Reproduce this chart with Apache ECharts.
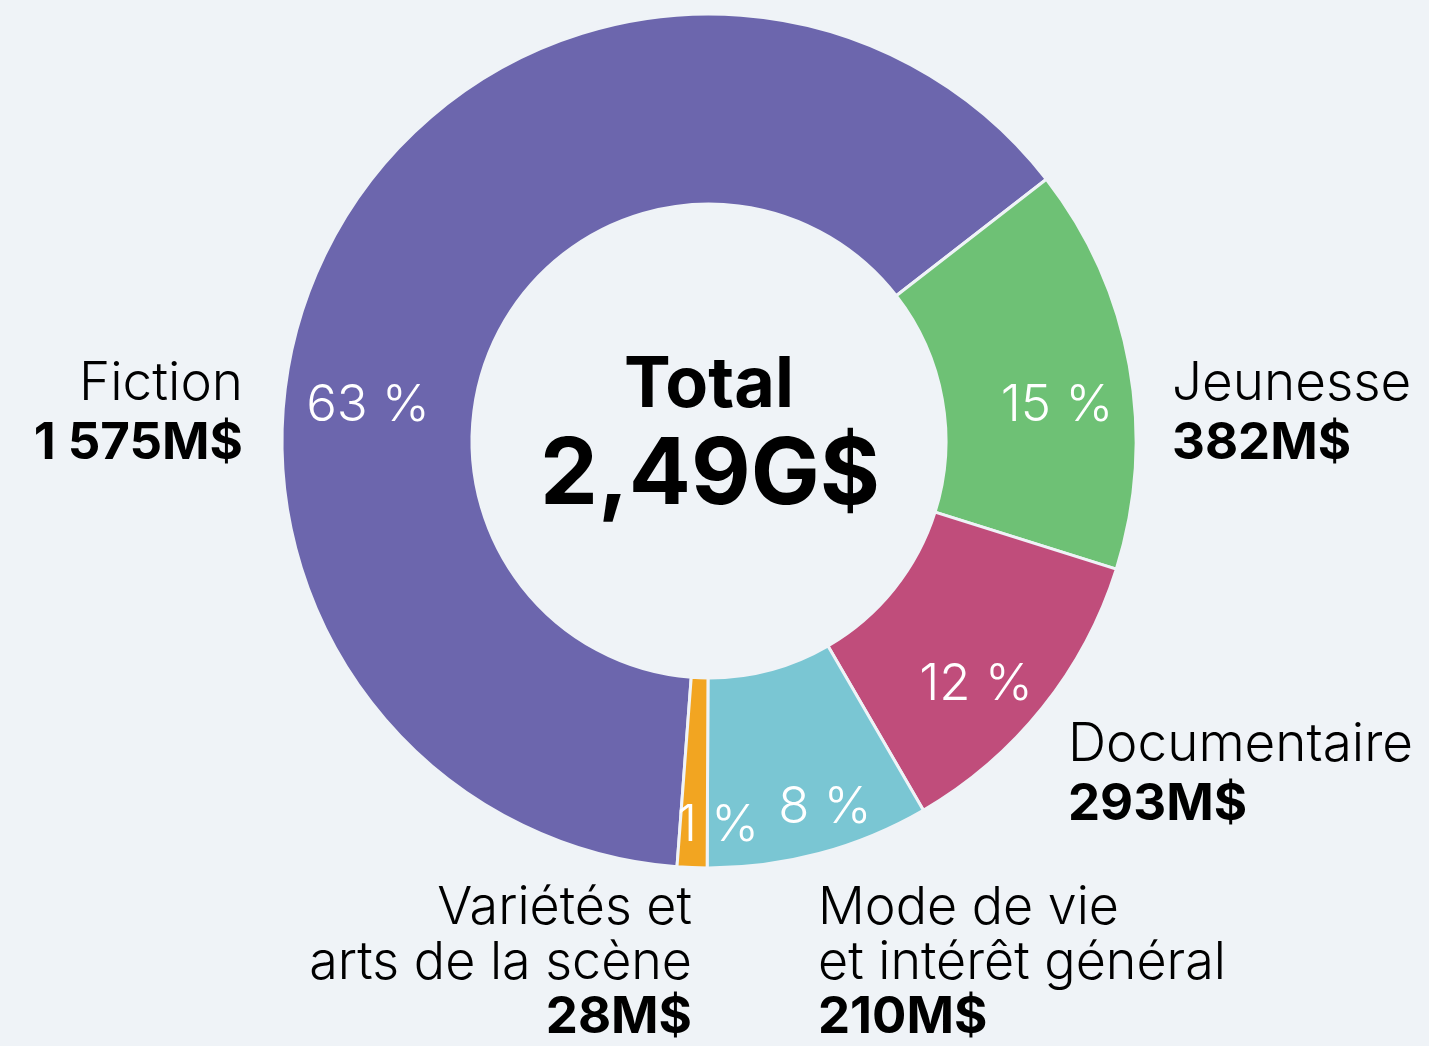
<!DOCTYPE html>
<html>
<head>
<meta charset="utf-8">
<script src="https://cdn.jsdelivr.net/npm/echarts@6/dist/echarts.min.js"></script>
<style>
  html, body { margin: 0; padding: 0; background: #eff3f7; }
  #main { width: 1429px; height: 1046px; }
</style>
</head>
<body>
<div id="main"></div>
<script>
// données (M$)
var categories = ['Fiction', 'Jeunesse', 'Documentaire', 'Mode de vie\net intérêt général', 'Variétés et\narts de la scène'];
var values = [1575, 382, 293, 210, 28];
var colors = ['#6c66ad', '#6ec175', '#c04d7b', '#7ac6d3', '#f2a521'];

// placement des étiquettes
var pctPos = [[368, 406], [1057, 406], [976, 685], [825, 808], [718, 826]];
var namePos = [[243, 414, 'right'], [1172, 414, 'left'], [1068, 775, 'left'], [818, 963, 'left'], [692, 963, 'right']];

var bg = '#eff3f7';
var font = 'Inter, "Noto Sans", sans-serif';

function fmtM(v) {
  var s = String(v);
  if (v >= 1000) s = s.slice(0, s.length - 3) + ' ' + s.slice(-3);
  return s + 'M$';
}

var total = values.reduce(function (a, b) { return a + b; }, 0);
var totalTxt = (total / 1000).toFixed(2).replace('.', ',') + 'G$';

var data = categories.map(function (c, i) {
  return { name: c, value: values[i], itemStyle: { color: colors[i] } };
});

var myChart = echarts.init(document.getElementById('main'));
var option = {
  backgroundColor: bg,
  animation: false,
  graphic: [
    {
      type: 'text', x: 709, y: 386, z: 10,
      style: { text: 'Total', font: 'bold 70px ' + font, fill: '#000', align: 'center', verticalAlign: 'middle' }
    },
    {
      type: 'text', x: 710, y: 476, z: 10,
      style: { text: totalTxt, font: 'bold 92px ' + font, fill: '#000', align: 'center', verticalAlign: 'middle' }
    }
  ],
  series: [
    {
      type: 'pie',
      center: [709, 441],
      radius: [237, 427],
      startAngle: 265.7,
      clockwise: true,
      silent: true,
      avoidLabelOverlap: false,
      data: data,
      itemStyle: { borderColor: bg, borderWidth: 3 },
      label: {
        show: true,
        position: 'inside',
        color: '#fff',
        fontFamily: font,
        fontWeight: 300,
        fontSize: 51,
        formatter: function (p) { return Math.round(p.percent) + ' %'; }
      },
      labelLine: { show: false },
      labelLayout: function (p) {
        var pos = pctPos[p.dataIndex];
        return { x: pos[0], y: pos[1], align: 'center', verticalAlign: 'middle' };
      },
      z: 2
    },
    {
      type: 'pie',
      center: [709, 441],
      radius: [237, 427],
      startAngle: 265.7,
      clockwise: true,
      silent: true,
      avoidLabelOverlap: false,
      data: data.map(function (d) { return { name: d.name, value: d.value }; }),
      itemStyle: { color: 'rgba(0,0,0,0)', borderWidth: 0 },
      label: {
        show: true,
        position: 'outside',
        fontFamily: font,
        formatter: function (p) {
          var i = p.dataIndex;
          var small = i >= 3;
          var r = namePos[i][2] === 'right' ? 'R' : 'L';
          var lines = p.name.split('\n').map(function (l) {
            return '{' + (small ? 'ns' : 'n') + r + '|' + l + '}';
          });
          lines.push('{' + (small ? 'vs' : 'v') + r + '|' + fmtM(p.value) + '}');
          return lines.join('\n');
        },
        rich: {
          nL: { fontFamily: font, fontSize: 53, fontWeight: 300, color: '#000', lineHeight: 59, align: 'left' },
          vL: { fontFamily: font, fontSize: 51, fontWeight: 700, color: '#000', lineHeight: 59, align: 'left' },
          nR: { fontFamily: font, fontSize: 53, fontWeight: 300, color: '#000', lineHeight: 59, align: 'right' },
          vR: { fontFamily: font, fontSize: 51, fontWeight: 700, color: '#000', lineHeight: 59, align: 'right' },
          nsL: { fontFamily: font, fontSize: 52, fontWeight: 300, color: '#000', lineHeight: 55, align: 'left' },
          vsL: { fontFamily: font, fontSize: 51, fontWeight: 700, color: '#000', lineHeight: 55, align: 'left' },
          nsR: { fontFamily: font, fontSize: 52, fontWeight: 300, color: '#000', lineHeight: 55, align: 'right' },
          vsR: { fontFamily: font, fontSize: 51, fontWeight: 700, color: '#000', lineHeight: 55, align: 'right' }
        }
      },
      labelLine: { show: false },
      labelLayout: function (p) {
        var pos = namePos[p.dataIndex];
        return { x: pos[0], y: pos[1], align: pos[2], verticalAlign: 'middle' };
      },
      z: 1
    }
  ]
};
myChart.setOption(option);
</script>
</body>
</html>
